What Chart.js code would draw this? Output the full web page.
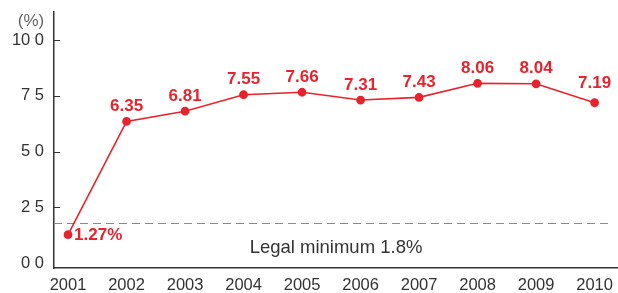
<!DOCTYPE html>
<html>
<head>
<meta charset="utf-8">
<script src="https://cdn.jsdelivr.net/npm/chart.js@4.4.1/dist/chart.umd.min.js"></script>
<style>
  html, body { margin: 0; padding: 0; background: #fff; }
  #wrap { position: relative; width: 618px; height: 293px; }
</style>
</head>
<body>
<div id="wrap"><canvas id="myChart" width="618" height="293"></canvas></div>
<script>
'use strict';

// data
const years = [2001, 2002, 2003, 2004, 2005, 2006, 2007, 2008, 2009, 2010];
const rates = [1.27, 6.35, 6.81, 7.55, 7.66, 7.31, 7.43, 8.06, 8.04, 7.19];
const yTicks = [0, 2.5, 5, 7.5, 10];
const yTickLabels = ['0 0', '2 5', '5 0', '7 5', '10 0'];
const legalMin = 1.8;
const legalLabel = 'Legal minimum 1.8%';
const unitLabel = '(%)';

const red = '#e8232c';
const dark = '#333333';
const font = '"Liberation Sans", Arial, Helvetica, sans-serif';

// draws the y tick marks, the legal minimum line and all text on the plot
const extras = {
  id: 'extras',
  beforeDatasetsDraw(chart) {
    const c = chart.ctx;
    const y = chart.scales.y;
    const area = chart.chartArea;

    // dashed legal minimum line
    c.save();
    c.strokeStyle = '#8a8a8a';
    c.lineWidth = 1;
    c.setLineDash([8, 5]);
    c.beginPath();
    let ly = Math.round(y.getPixelForValue(legalMin)) + 0.5;
    c.moveTo(area.left, ly);
    c.lineTo(area.right - 5, ly);
    c.stroke();
    c.restore();

    // small tick marks inside the y axis
    c.save();
    c.strokeStyle = dark;
    c.lineWidth = 1;
    for (let i = 1; i < yTicks.length; i++) {
      let ty = Math.round(y.getPixelForValue(yTicks[i])) + 0.5;
      c.beginPath();
      c.moveTo(area.left, ty);
      c.lineTo(area.left + 6, ty);
      c.stroke();
    }
    c.restore();

    c.save();
    c.fillStyle = dark;
    c.font = '18.5px ' + font;
    c.textAlign = 'center';
    c.textBaseline = 'middle';
    c.fillText(legalLabel, (area.left + area.right) / 2, area.bottom - 20);

    c.fillStyle = '#666';
    c.font = '17px ' + font;
    c.fillText(unitLabel, 31, 21);
    c.restore();
  },
  afterDatasetsDraw(chart) {
    const c = chart.ctx;
    const meta = chart.getDatasetMeta(0);
    c.save();
    c.fillStyle = red;
    c.font = 'bold 17px ' + font;
    c.textBaseline = 'middle';
    meta.data.forEach(function(pt, i) {
      if (i === 0) {
        c.textAlign = 'left';
        c.fillText(rates[i].toFixed(2) + '%', pt.x + 6, pt.y + 1);
      } else {
        c.textAlign = 'center';
        c.fillText(rates[i].toFixed(2), pt.x, pt.y - (i === rates.length - 1 ? 19 : 15));
      }
    });
    c.restore();
  }
};

const ctx = document.getElementById('myChart').getContext('2d');

const myChart = new Chart(ctx, {
  type: 'line',
  data: {
    datasets: [{
      data: years.map((yr, i) => ({ x: yr, y: rates[i] })),
      borderColor: red,
      backgroundColor: red,
      borderWidth: 1.6,
      pointRadius: 3.6,
      pointHoverRadius: 3.6,
      tension: 0
    }]
  },
  plugins: [extras],
  options: {
    responsive: false,
    animation: false,
    layout: { autoPadding: false, padding: { top: 12, right: 0, left: 0, bottom: 0 } },
    plugins: {
      legend: { display: false },
      tooltip: { enabled: false }
    },
    scales: {
      x: {
        type: 'linear',
        min: 2000.76,
        max: 2010.4,
        afterBuildTicks(scale) {
          scale.ticks = years.map(v => ({ value: v }));
        },
        afterFit(scale) {
          scale.height = 25;
          scale.paddingLeft = 0;
          scale.paddingRight = 0;
        },
        grid: { display: false, drawTicks: false },
        border: { display: true, color: dark, width: 1.5 },
        ticks: {
          padding: 8,
          color: dark,
          font: { family: font, size: 16.5 },
          maxRotation: 0,
          autoSkip: false,
          callback: v => String(v)
        }
      },
      y: {
        min: -0.224,
        max: 11.26,
        afterBuildTicks(scale) {
          scale.ticks = yTicks.map(v => ({ value: v }));
        },
        afterFit(scale) {
          scale.width = 54;
          scale.paddingTop = 0;
          scale.paddingBottom = 0;
        },
        grid: { display: false, drawTicks: false },
        border: { display: true, color: dark, width: 1.5 },
        ticks: {
          padding: 10,
          color: dark,
          font: { family: font, size: 16.5 },
          callback: function(v) {
            return yTickLabels[yTicks.indexOf(v)];
          }
        }
      }
    }
  }
});
</script>
</body>
</html>
